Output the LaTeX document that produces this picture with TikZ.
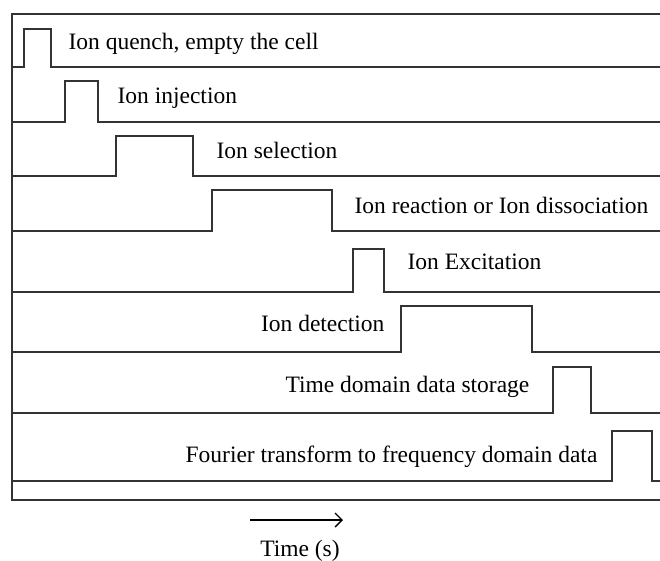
\documentclass[tikz,border=0pt]{standalone}
\usepackage{fontspec}
\setmainfont{Liberation Serif}
\usetikzlibrary{arrows.meta,positioning}

\begin{document}
\begin{tikzpicture}[x=1pt,y=-1pt,line width=1.2pt,
    trace/.style={draw=black!80},
    lbl/.style={font=\fontsize{23.5}{28}\selectfont,inner sep=0pt}]

    \useasboundingbox (0,0) rectangle (660,560);

    % frame
    \draw[trace] (660,14) -- (12,14) -- (12,500) -- (660,500);

    % one trace per step
    \draw[trace] (12,67)  -- (24,67)  -- (24,29)  -- (51,29)  -- (51,67)  -- (660,67);
    \draw[trace] (12,122) -- (65,122) -- (65,81)  -- (98,81)  -- (98,122) -- (660,122);
    \draw[trace] (12,176) -- (116,176) -- (116,136) -- (193,136) -- (193,176) -- (660,176);
    \draw[trace] (12,231) -- (212,231) -- (212,190) -- (332,190) -- (332,231) -- (660,231);
    \draw[trace] (12,292) -- (353,292) -- (353,249) -- (384,249) -- (384,292) -- (660,292);
    \draw[trace] (12,352) -- (401,352) -- (401,306) -- (532,306) -- (532,352) -- (660,352);
    \draw[trace] (12,413) -- (553,413) -- (553,367) -- (591,367) -- (591,413) -- (660,413);
    \draw[trace] (12,481) -- (612,481) -- (612,431) -- (652,431) -- (652,481) -- (660,481);

    \node[lbl,anchor=base west] (quench)  at (68,49)   {Ion quench, empty the cell};
    \node[lbl,anchor=base west] (inject)  at (117,103) {Ion injection};
    \node[lbl,anchor=base west] (select)  at (216,158) {Ion selection};
    \node[lbl,anchor=base west] (react)   at (354,213) {Ion reaction or Ion dissociation};
    \node[lbl,anchor=base west] (excite)  at (407,269) {Ion Excitation};
    \node[lbl,anchor=base east] (detect)  at (385,331) {Ion detection};
    \node[lbl,anchor=base east] (store)   at (530,392) {Time domain data storage};
    \node[lbl,anchor=base east] (fourier) at (598,462) {Fourier transform to frequency domain data};

    % time axis
    \coordinate (tstart) at (250,520);
    \coordinate (tend)   at (343,520);
    \draw[-{Straight Barb[length=7pt,width=14pt]},line width=1.4pt] (tstart) -- (tend);
    \node[lbl,anchor=base] (time) at (300,556) {Time (s)};

\end{tikzpicture}
\end{document}
